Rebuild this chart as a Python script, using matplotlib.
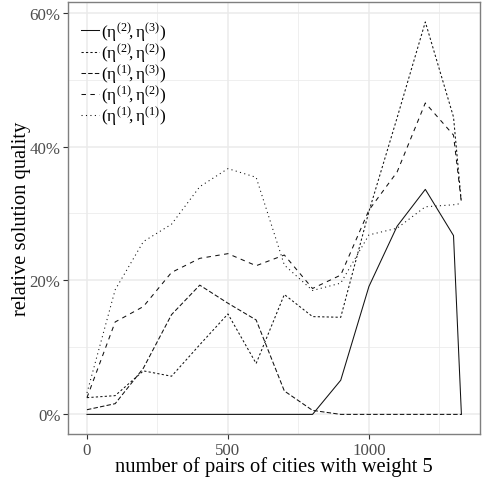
import matplotlib
matplotlib.use("Agg")
import matplotlib.pyplot as plt
from matplotlib.ticker import FixedLocator, FuncFormatter

plt.rcParams['font.family'] = ['Liberation Serif', 'DejaVu Serif']
plt.rcParams['mathtext.fontset'] = 'custom'
plt.rcParams['mathtext.rm'] = 'Liberation Serif'
plt.rcParams['mathtext.it'] = 'Liberation Serif:italic'
plt.rcParams['lines.scale_dashes'] = False

x = [0, 100, 200, 300, 400, 500, 600, 700, 800, 900, 1000, 1100, 1200, 1300, 1328]

eta23 = [0, 0, 0, 0, 0, 0, 0, 0, 0, 5.1, 19.1, 28.1, 33.6, 26.7, 0]
eta22 = [2.5, 2.8, 6.5, 5.7, 10.4, 15.0, 7.6, 17.9, 14.6, 14.5, 30.3, 44.3, 58.6, 44.4, 31.6]
eta13 = [0.7, 1.6, 6.9, 14.9, 19.3, 16.6, 14.1, 3.5, 0.6, 0, 0, 0, 0, 0, 0]
eta12 = [2.5, 13.8, 16.1, 21.2, 23.3, 24.0, 22.2, 23.8, 18.8, 20.8, 30.5, 36.2, 46.5, 41.7, 31.6]
eta11 = [3.2, 18.6, 25.8, 28.4, 34.0, 36.7, 35.4, 22.3, 18.5, 19.6, 26.8, 27.8, 31.0, 31.3, 31.5]

labels = [r"$(\mathrm{\eta}^{(2)}\!,\mathrm{\eta}^{(3)})$",
          r"$(\mathrm{\eta}^{(2)}\!,\mathrm{\eta}^{(2)})$",
          r"$(\mathrm{\eta}^{(1)}\!,\mathrm{\eta}^{(3)})$",
          r"$(\mathrm{\eta}^{(1)}\!,\mathrm{\eta}^{(2)})$",
          r"$(\mathrm{\eta}^{(1)}\!,\mathrm{\eta}^{(1)})$"]
series = [eta23, eta22, eta13, eta12, eta11]
styles = ['-', (0, (1.6, 1.6)), (0, (3.2, 1.6)), (0, (3.2, 3.2)), (0, (0.8, 2.4))]

x_ticks = [0, 500, 1000]
y_ticks = [0, 20, 40, 60]

fig = plt.figure(figsize=(4.84, 4.81), dpi=100)
ax = fig.add_axes([0.141, 0.0956, 0.851, 0.8975])

for ys, ls, lab in zip(series, styles, labels):
    ax.plot(x, ys, color='#111111', linestyle=ls, linewidth=0.75, label=lab)

xmin, xmax = min(x), max(x)
span = xmax - xmin
ax.set_xlim(xmin - 0.05 * span, xmax + 0.05 * span)
ymax = max(max(s) for s in series)
ax.set_ylim(-0.05 * ymax, ymax * 1.05)

ax.xaxis.set_major_locator(FixedLocator(x_ticks))
ax.xaxis.set_minor_locator(FixedLocator([250, 750, 1250]))
ax.yaxis.set_major_locator(FixedLocator(y_ticks))
ax.yaxis.set_minor_locator(FixedLocator([10, 30, 50]))
ax.yaxis.set_major_formatter(FuncFormatter(lambda v, p: f"{int(v)}%"))

ax.grid(True, which='major', color='#EBEBEB', linewidth=1.1)
ax.grid(True, which='minor', color='#EBEBEB', linewidth=0.55)
ax.set_axisbelow(True)
for s in ax.spines.values():
    s.set_color('#7F7F7F')
    s.set_linewidth(1.0)

ax.tick_params(which='major', length=3.5, width=0.8, color='#333333',
               labelcolor='#4D4D4D', labelsize=12.2, pad=2)
ax.tick_params(which='minor', length=0)

ax.set_xlabel("number of pairs of cities with weight 5", fontsize=14.8, labelpad=-1)
ax.set_ylabel("relative solution quality", fontsize=14.8, labelpad=-1)

leg = ax.legend(loc='upper left', bbox_to_anchor=(0.015, 0.975), frameon=False,
                fontsize=12.5, handlelength=1.0, handletextpad=0.15,
                labelspacing=-0.1, borderaxespad=0.0)

fig.savefig("out.png", dpi=100)
